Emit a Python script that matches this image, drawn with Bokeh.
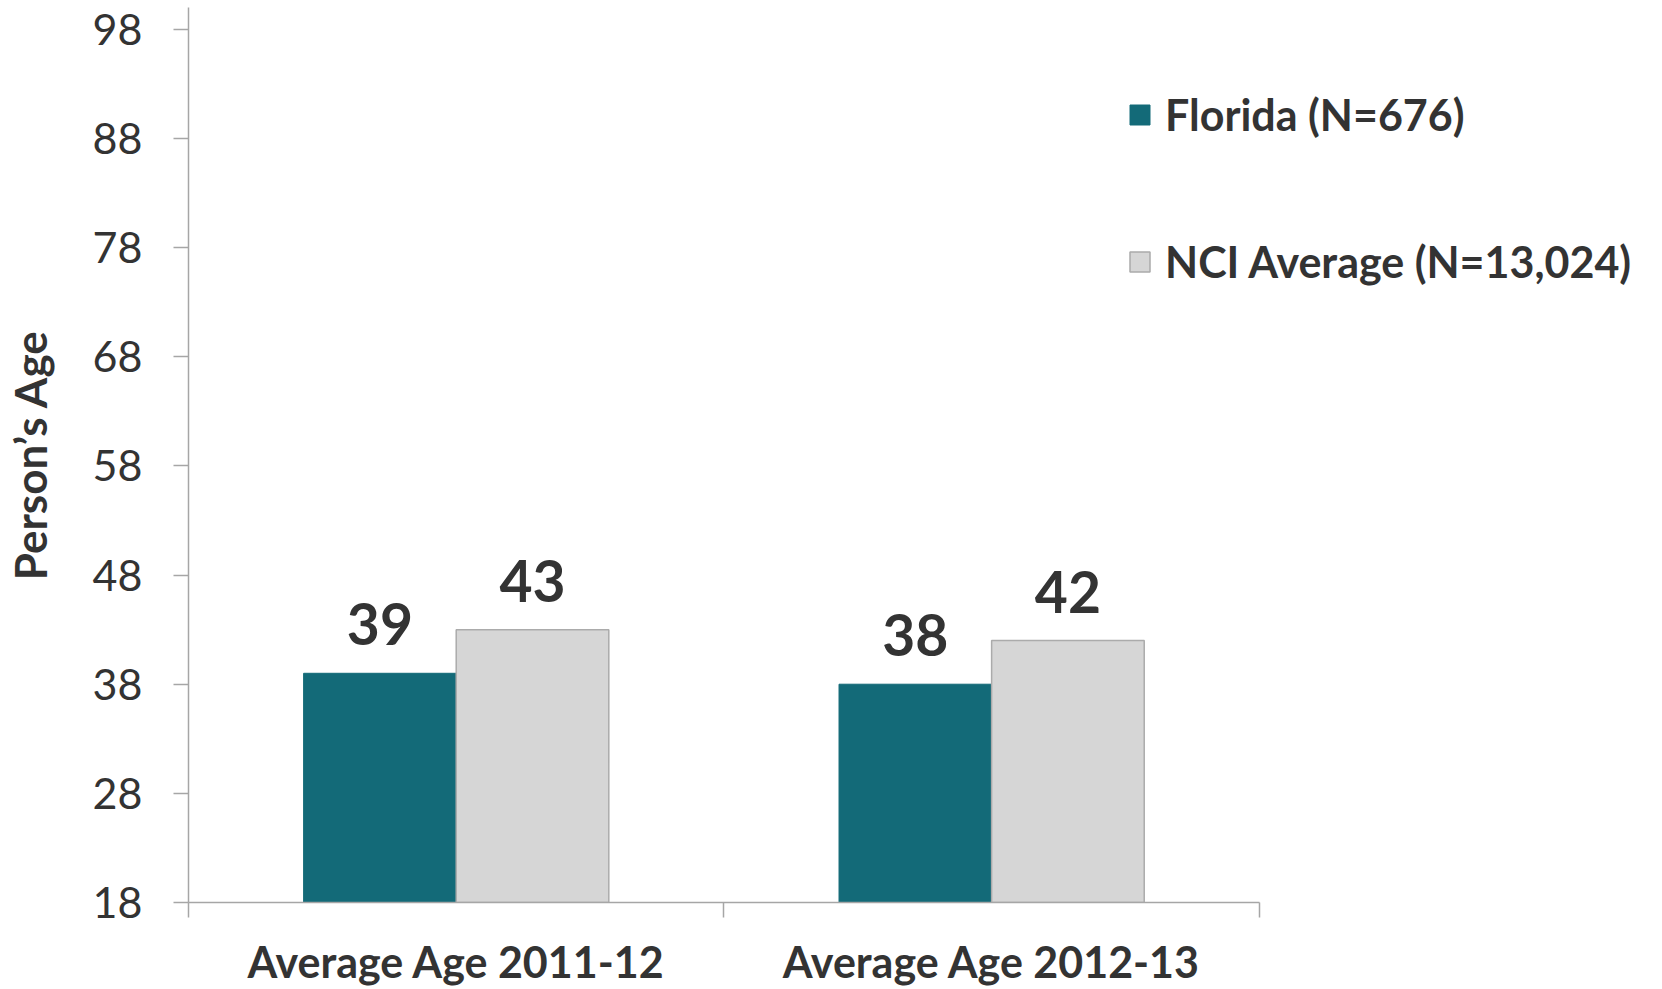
from bokeh.plotting import figure
from bokeh.models import Range1d, FixedTicker, LinearAxis, Legend, LegendItem
from bokeh.core.properties import value
from bokeh.embed import file_html
from bokeh.resources import INLINE

categories = ["Average Age 2011-12", "Average Age 2012-13"]
series_names = ["Florida (N=676)", "NCI Average (N=13,024)"]
florida = [39, 38]
nci = [43, 42]
y_ticks = [18, 28, 38, 48, 58, 68, 78, 88, 98]

TEAL = "#136A78"
GRAY = "#D6D6D6"
GRAY_EDGE = "#ABABAB"
AXIS = "#A6A6A6"
TXT = "#333333"
FONT_NAME = "Lato"
FONT = value(FONT_NAME)

W, H = 1662, 989
p = figure(width=W, height=H, output_backend="svg", toolbar_location=None,
           x_range=Range1d(0, 2.753), y_range=Range1d(18, 100),
           x_axis_type=None, y_axis_type=None,
           min_border_left=178, min_border_right=0, min_border_top=7,
           min_border_bottom=87)
p.outline_line_color = None
p.background_fill_color = "white"

n = len(categories)
centers = [i + 0.5 for i in range(n)]
bw = 0.285
fl_x = [c - bw / 2 for c in centers]
nci_x = [c + bw / 2 for c in centers]

r1 = p.vbar(x=fl_x, top=florida, bottom=y_ticks[0], width=bw,
            fill_color=TEAL, line_color=TEAL, line_width=1)
r2 = p.vbar(x=nci_x, top=nci, bottom=y_ticks[0], width=bw,
            fill_color=GRAY, line_color=GRAY_EDGE, line_width=1.5)

for xs, vals in ((fl_x, florida), (nci_x, nci)):
    p.text(x=xs, y=vals, text=[str(v) for v in vals], text_align="center",
           text_baseline="alphabetic", y_offset=-49, text_font=FONT,
           text_font_style="bold", text_font_size="57px", text_color=TXT)

yaxis = LinearAxis(ticker=FixedTicker(ticks=y_ticks), axis_label="Person\u2019s Age")
yaxis.axis_line_color = AXIS
yaxis.axis_line_width = 1.5
yaxis.major_tick_line_color = AXIS
yaxis.major_tick_line_width = 1.5
yaxis.major_tick_out = 15
yaxis.major_tick_in = 0
yaxis.minor_tick_line_color = None
yaxis.major_label_standoff = 31
yaxis.major_label_text_font = FONT_NAME
yaxis.major_label_text_font_size = "43px"
yaxis.major_label_text_color = TXT
yaxis.axis_label_text_font = FONT_NAME
yaxis.axis_label_text_font_style = "bold"
yaxis.axis_label_text_font_size = "44px"
yaxis.axis_label_text_color = TXT
yaxis.axis_label_standoff = 34
p.add_layout(yaxis, "left")

xaxis = LinearAxis(ticker=FixedTicker(ticks=centers, minor_ticks=list(range(n + 1))),
                   bounds=(0, n),
                   major_label_overrides={c: cat for c, cat in zip(centers, categories)})
xaxis.axis_line_color = AXIS
xaxis.axis_line_width = 1.5
xaxis.major_tick_line_color = None
xaxis.major_tick_out = 0
xaxis.major_tick_in = 0
xaxis.minor_tick_line_color = AXIS
xaxis.minor_tick_line_width = 1.5
xaxis.minor_tick_out = 15
xaxis.minor_tick_in = 0
xaxis.major_label_standoff = 18
xaxis.major_label_text_font = FONT_NAME
xaxis.major_label_text_font_style = "bold"
xaxis.major_label_text_font_size = "43px"
xaxis.major_label_text_color = TXT
p.add_layout(xaxis, "below")

legend = Legend(items=[LegendItem(label=series_names[0], renderers=[r1]),
                       LegendItem(label=series_names[1], renderers=[r2])],
                location=(939, 615), glyph_width=25, glyph_height=25,
                label_text_font=FONT_NAME, label_text_font_style="bold",
                label_text_font_size="43px", label_text_color=TXT,
                label_standoff=13, spacing=96, padding=0, margin=0,
                border_line_color=None, background_fill_alpha=0)
p.add_layout(legend)

open("out.html", "w").write(file_html(p, INLINE))
